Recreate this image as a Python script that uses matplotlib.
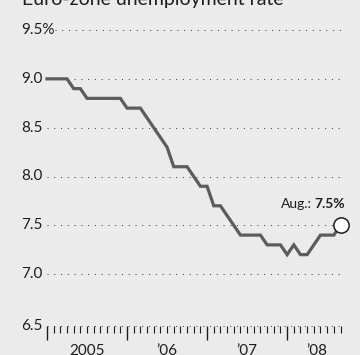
import matplotlib
matplotlib.use('Agg')
from matplotlib import pyplot as plt
import numpy as np

# monthly euro-zone unemployment rate, %, Jan 2005 .. Aug 2008 (month-end positions)
rate = [9.0, 9.0, 9.0, 9.0, 8.9, 8.9, 8.8, 8.8, 8.8, 8.8, 8.8, 8.8,
        8.7, 8.7, 8.7, 8.6, 8.5, 8.4, 8.3, 8.1, 8.1, 8.1, 8.0, 7.9,
        7.9, 7.7, 7.7, 7.6, 7.5, 7.4, 7.4, 7.4, 7.4, 7.3, 7.3, 7.3,
        7.2, 7.3, 7.2, 7.2, 7.3, 7.4, 7.4, 7.4, 7.5]
months = np.arange(len(rate))
y_ticks = [6.5, 7.0, 7.5, 8.0, 8.5, 9.0, 9.5]
y_labels = ['6.5', '7.0', '7.5', '8.0', '8.5', '9.0', '9.5%']
year_starts = [0, 12, 24, 36]
year_labels = ['2005', '\u201906', '\u201907', '\u201908']
year_label_pos = [6, 18, 30, 40.5]

bg = '#ebebeb'
ink = '#1e1e1e'
line_col = '#5c5c5c'

plt.rcParams['font.family'] = ['Lato', 'DejaVu Sans']

W, H = 360, 355
fig = plt.figure(figsize=(W / 100, H / 100), dpi=100, facecolor=bg)
# axes box in pixels: x 47..340.5, y 30..323 (from top)
ax = fig.add_axes([47 / W, (H - 323) / H, 293.5 / W, 293 / H])
ax.set_facecolor(bg)
ax.set_xlim(0, 44)
ax.set_ylim(6.5, 9.5)
for s in ax.spines.values():
    s.set_visible(False)
# baseline sits a few pixels below the 6.5 level
base_drop = 3
ax.spines['bottom'].set_position(('outward', base_drop * 72 / 100))
base_y = 6.5 - base_drop * 3.0 / 293

# dotted gridlines
for yv in y_ticks:
    x0 = 1.2 if yv == 9.5 else 0
    yy = base_y if yv == 6.5 else yv
    ax.plot([x0, 44.4], [yy, yy], color='#444444', lw=0.75,
            ls=(0, (1, 5.5)), clip_on=False, zorder=1)

# y labels, left aligned
lab_x = (21 - 47) / 293.5
for yv, lab in zip(y_ticks, y_labels):
    yy = base_y if yv == 6.5 else yv
    ax.text(lab_x, yy, lab, transform=ax.get_yaxis_transform(), ha='left',
            va='center', fontsize=11, color=ink, clip_on=False)

ax.plot(months, rate, color=line_col, lw=2.3, solid_joinstyle='miter',
        zorder=3, clip_on=False)
ax.plot(months[-1], rate[-1], 'o', ms=11, mfc='white', mec=ink, mew=1.1,
        zorder=4, clip_on=False)

# annotation: plain "Aug.:" followed by bold value
val = ax.text(44.7, rate[-1] + 0.22, '7.5%', ha='right', va='center',
              fontsize=10, color=ink, fontweight='bold', clip_on=False)
fig.canvas.draw()
wpx = val.get_window_extent(fig.canvas.get_renderer()).width
ax.annotate('Aug.:', xy=(44.7, rate[-1] + 0.22), xytext=(-wpx * 72 / 100 - 2, 0),
            textcoords='offset points', ha='right', va='center',
            fontsize=10, color=ink, annotation_clip=False)

# x ticks
ax.set_yticks([])
ax.set_xticks(year_starts)
ax.set_xticks(months, minor=True)
ax.set_xticklabels([])
ax.tick_params(axis='x', which='major', length=10, width=1, color=ink,
               direction='out')
ax.tick_params(axis='x', which='minor', length=5, width=0.8, color=ink,
               direction='out')
for xp, lab in zip(year_label_pos, year_labels):
    ax.text(xp, -0.072, lab, transform=ax.get_xaxis_transform(), ha='center',
            va='top', fontsize=11, color=ink, clip_on=False)

fig.text(22 / W, 1 - 5 / H, 'Euro-zone unemployment rate', ha='left',
         va='baseline', fontsize=14, color=ink)

fig.savefig('out.png', dpi=100, facecolor=bg)
